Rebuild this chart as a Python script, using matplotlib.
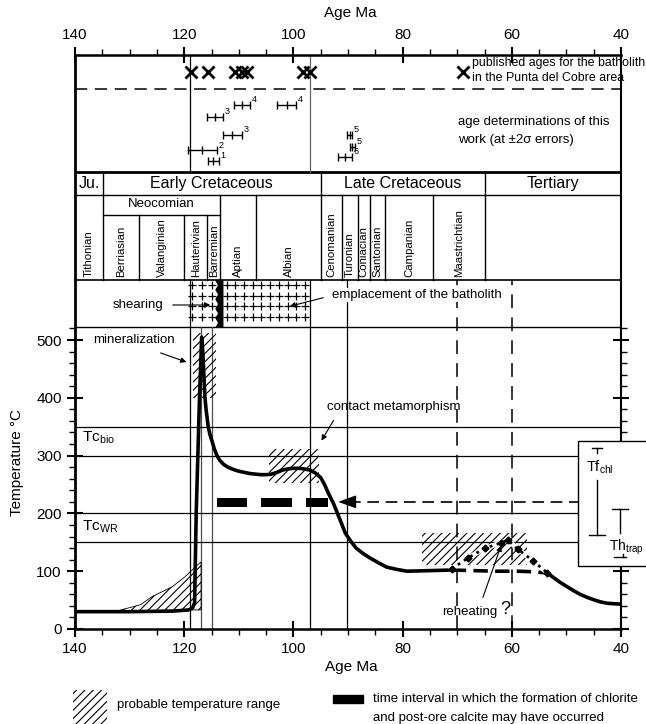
import numpy as np
import matplotlib
matplotlib.use('Agg')
import matplotlib.pyplot as plt
from matplotlib.patches import Rectangle
from matplotlib.ticker import MultipleLocator, FixedLocator

plt.rcParams['font.family'] = ['Liberation Sans', 'DejaVu Sans']
plt.rcParams['hatch.linewidth'] = 0.8
plt.rcParams['mathtext.default'] = 'regular'

# --- upper panel: ages ---
published_ages = [118.8, 115.6, 110.7, 109.5, 108.5, 98.3, 97.0]
det_ages = [109.4, 101.2, 114.4, 111.2, 89.7, 89.2, 116.7, 90.5, 114.7]
det_errs = [1.5, 1.75, 1.45, 1.75, 0.45, 0.45, 2.65, 1.25, 1.0]
det_labels = ['4', '4', '3', '3', '5', '5', '2', '6', '1']

# --- stratigraphy ---
periods = ['Ju.', 'Early Cretaceous', 'Late Cretaceous', 'Tertiary']
period_bounds = [140, 134.9, 95.0, 65.0, 40]
stages = ['Tithonian', 'Berriasian', 'Valanginian', 'Hauterivian', 'Barremian',
          'Aptian', 'Albian', 'Cenomanian', 'Turonian', 'Coniacian', 'Santonian',
          'Campanian', 'Maastrichtian']
stage_bounds = [140, 134.9, 128.3, 120.0, 115.8, 113.4, 106.8, 95.0,
                91.1, 88.2, 86.0, 83.2, 74.4, 65.0]
neocomian = (134.9, 113.4)

# --- temperature history ---
curve_age = [140, 130, 122, 119.2, 118.5, 118.1, 117.8, 117.2, 116.8, 116.6, 116.4,
             116.2, 116.0, 115.8, 115.6, 115.3, 114.9, 114.5, 114.0, 113.5, 112.8,
             112.0, 111.0, 110.0, 109.0, 108.0, 107.0, 106.0, 105.0, 104.0, 103.0,
             102.0, 101.0, 100.0, 99.0, 98.0, 97.0, 96.0, 95.0, 94.3, 93.6, 92.7,
             91.5, 90.5, 89.5, 88.5, 87.3, 86.0, 84.5, 82.9, 81.0, 79.2, 75.0, 71.0]
curve_temp = [30, 30, 31, 33, 36, 45, 200, 400, 505, 480, 440,
              401, 380, 365, 350, 337, 325, 312, 300, 292, 285,
              280, 276, 273, 271, 269, 268, 267, 267, 268, 271,
              275, 277, 278, 278, 277, 275, 270, 262, 250, 235, 218,
              190, 166, 152, 140, 131, 123, 115, 107, 103, 100, 101, 102]
gap_age = [71.0, 67.0, 63.0, 59.0, 56.0, 53.5]
gap_temp = [102, 101, 100, 100, 99, 97]
tail_age = [53.5, 52.5, 51.2, 50.0, 48.8, 47.5, 46.0, 44.8, 43.8, 42.5, 41.0, 40.0]
tail_temp = [97, 90, 81, 74, 67, 60, 54, 50, 47, 44.5, 43.5, 43]
reheat_age = [71.0, 68.0, 64.9, 62.0, 60.7, 58.9, 56.1, 53.5]
reheat_temp = [104, 123, 140, 149, 154, 138, 118, 97]
base_age = [132, 128, 125.9, 122.2, 119.9, 118.0, 116.9, 116.9, 119, 125, 132]
base_temp = [32, 42, 56, 73, 90, 107, 116, 33, 33, 32, 31]
mineral_box = (118.4, 114.2, 400, 512)
contact_box = (104.4, 95.3, 252, 311)
reheat_box = (76.4, 57.2, 110, 166)
closure_temps = [350, 300, 200, 150]
chlorite_from = [114.0, 105.9, 97.7]
chlorite_to = [108.5, 100.3, 93.7]
chlorite_temp = 219
tf_chl = (163, 313)
th_trap = (125, 208)


def yp(p):
    # pixel row of the reference -> axis units
    return (629 - p) / 0.578


def xp(p):
    return 140 - (p - 75) / 5.46


fig = plt.figure(figsize=(6.46, 7.24), dpi=100)
ax = fig.add_axes([75 / 646, 95 / 724, 546 / 646, 574 / 724])
ax.set_xlim(140, 40)
ax.set_ylim(0, yp(55))

for side, lw in [('left', 2.0), ('bottom', 1.8), ('top', 1.8), ('right', 1.5)]:
    ax.spines[side].set_linewidth(lw)

ax.set_xticks(np.arange(140, 39, -20))
ax.xaxis.set_minor_locator(MultipleLocator(5))
ax.set_yticks(np.arange(0, 501, 100))
ax.yaxis.set_minor_locator(FixedLocator([t for t in range(0, 521, 20) if t % 100]))
ax.tick_params(which='major', direction='inout', length=12, width=1.5, labelsize=11,
               top=True, right=True, labeltop=True)
ax.tick_params(which='minor', direction='out', length=4, width=1, top=True, right=True)

fig.text(350 / 646, 1 - 13 / 724, 'Age Ma', ha='center', va='center', fontsize=11)
fig.text(351 / 646, 1 - 667 / 724, 'Age Ma', ha='center', va='center', fontsize=11)
fig.text(17 / 646, 1 - 462 / 724, 'Temperature °C', ha='center', va='center',
         rotation=90, fontsize=11)

# frame lines of the upper panels
ax.axhline(yp(89), color='k', lw=1.1, dashes=(8, 5))
ax.axhline(yp(172), color='k', lw=2)
ax.axhline(yp(195), color='k', lw=1)
ax.axhline(yp(280), color='k', lw=1.2)
ax.axhline(yp(327), color='k', lw=1)
ax.plot(neocomian, [yp(215)] * 2, color='k', lw=1)
for b in period_bounds[1:-1]:
    ax.plot([b, b], [yp(172), yp(195)], color='k', lw=1)
for b in stage_bounds[1:]:
    top = yp(215) if neocomian[1] < b < neocomian[0] else yp(195)
    ax.plot([b, b], [top, yp(280)], color='k', lw=1)

for name, a, b in zip(periods, period_bounds[:-1], period_bounds[1:]):
    ax.text((a + b) / 2, yp(183.5), name, ha='center', va='center', fontsize=11.5)
ax.text(sum(neocomian) / 2, yp(204), 'Neocomian', ha='center', va='center', fontsize=9.5)
for name, a, b in zip(stages, stage_bounds[:-1], stage_bounds[1:]):
    ax.text((a + b) / 2, yp(277), name, ha='center', va='bottom', rotation=90, fontsize=8.2)

# published ages and age determinations
ax.plot([118.9, 118.9], [yp(55), yp(172)], color='k', lw=0.9)
ax.plot([97.0, 97.0], [yp(55), yp(172)], color='0.4', lw=0.9)
ax.plot(published_ages, [yp(72)] * len(published_ages), 'x', color='k', ms=8, mew=2)
ax.plot([69.0], [yp(72)], 'x', color='k', ms=8, mew=2)
ax.text(xp(472), yp(63), 'published ages for the batholith', fontsize=8.9, va='center')
ax.text(xp(472), yp(78), 'in the Punta del Cobre area', fontsize=8.9, va='center')
ax.text(xp(458), yp(122), 'age determinations of this', fontsize=9.5, va='center')
ax.text(xp(458), yp(140), 'work (at ±2σ errors)', fontsize=9.5, va='center')

det_rows = [105, 105, 117, 135, 135, 147, 150, 157, 161]
for a, e, lab, r in zip(det_ages, det_errs, det_labels, det_rows):
    ax.errorbar([a], [yp(r)], xerr=[e], fmt='|', color='k', ms=6, mew=1, lw=1, capsize=3)
    ax.text(a - e - 0.3, yp(r - 5), lab, fontsize=6.5, ha='left', va='center')

# shearing / emplacement row
cx = np.concatenate([np.linspace(118.6, 114.9, 3), np.linspace(112.2, 97.9, 10)])
cy = [yp(p) for p in (285, 296, 306, 317)]
X, Y = np.meshgrid(cx, cy)
ax.plot(X.ravel(), Y.ravel(), '+', color='k', ms=5.5, mew=0.9)
zy = np.linspace(yp(280), yp(327), 11)
zx = np.where(np.arange(11) % 2 == 0, 114.4, 113.9)
ax.fill_betweenx(zy, zx, 112.9, color='k', lw=0)
ax.text(xp(138), yp(305), 'shearing', ha='center', va='center', fontsize=9.5)
ax.annotate('', xy=(xp(213), yp(305)), xytext=(xp(170), yp(305)),
            arrowprops=dict(arrowstyle='-|>', color='k', lw=0.8, mutation_scale=8))
ax.text(xp(332), yp(295), 'emplacement of the batholith', ha='left', va='center',
        fontsize=9.5, zorder=4, bbox=dict(facecolor='white', edgecolor='none', pad=0.5))
ax.annotate('', xy=(xp(287), yp(307)), xytext=(xp(326), yp(297)),
            arrowprops=dict(arrowstyle='-|>', color='k', lw=0.8, mutation_scale=8))

# vertical reference lines
for a in (118.9, 97.0, 90.2):
    ax.plot([a, a], [0, yp(280)], color='k', lw=0.9)
for a in (116.9, 114.9):
    ax.plot([a, a], [0, yp(327)], color='0.3', lw=0.9)
for a in (70.0, 60.0):
    ax.plot([a, a], [0, yp(280)], color='k', lw=1.1, dashes=(9, 6))

# closure temperature lines
ax.axhline(closure_temps[0], color='k', lw=0.9)
for t in closure_temps[1:]:
    ax.plot([140, 47.9], [t, t], color='k', lw=0.9)
ax.text(138.7, 330, r'Tc$_{bio}$', fontsize=11, va='center')
ax.text(138.7, 176, r'Tc$_{WR}$', fontsize=11, va='center')

# probable temperature ranges
for a0, a1, t0, t1 in (mineral_box, contact_box, reheat_box):
    ax.add_patch(Rectangle((a1, t0), a0 - a1, t1 - t0, facecolor='none',
                           edgecolor='k', lw=0, hatch='////', zorder=2))
ax.fill(base_age, base_temp, facecolor='none', edgecolor='k', lw=0.6, hatch='////', zorder=2)

# chlorite interval and arrow
for a0, a1 in zip(chlorite_from, chlorite_to):
    ax.barh(chlorite_temp, a0 - a1, left=a1, height=15, color='k', zorder=3)
ax.plot([89.9, 47.9], [220, 220], color='k', lw=1.2, dashes=(7, 4))
ax.annotate('', xy=(91.8, 220), xytext=(89.6, 220),
            arrowprops=dict(arrowstyle='-|>,head_length=1.1,head_width=0.4', color='k',
                            lw=1, mutation_scale=10, shrinkA=0, shrinkB=0))

# temperature curve
ax.plot(curve_age, curve_temp, color='k', lw=2.6, solid_joinstyle='round', zorder=5)
ax.plot(gap_age, gap_temp, color='k', lw=2.6, dashes=(4, 2), zorder=5)
ax.plot(tail_age, tail_temp, color='k', lw=2.6, solid_capstyle='round',
        solid_joinstyle='round', zorder=5)
ax.plot(reheat_age, reheat_temp, color='white', lw=3.5, zorder=5)
ax.plot(reheat_age, reheat_temp, color='k', lw=2, ls=':', zorder=6)
ax.plot(reheat_age, reheat_temp, 'D', color='k', ms=3.5, zorder=6)

# annotations
ax.text(xp(93), yp(340), 'mineralization', ha='left', va='center', fontsize=9.5)
ax.annotate('', xy=(xp(189), yp(363)), xytext=(xp(158), yp(352)),
            arrowprops=dict(arrowstyle='-|>', color='k', lw=0.8, mutation_scale=8))
ax.text(xp(327), yp(407), 'contact metamorphism', ha='left', va='center', fontsize=9.5)
ax.annotate('', xy=(xp(320), yp(443)), xytext=(xp(335), yp(418)),
            arrowprops=dict(arrowstyle='-|>', color='k', lw=0.8, mutation_scale=8))
ax.text(xp(442), yp(612), 'reheating', ha='left', va='center', fontsize=9.5)
ax.text(xp(500), yp(609), '?', ha='left', va='center', fontsize=13)
ax.annotate('', xy=(xp(502), yp(543)), xytext=(xp(482), yp(600)),
            arrowprops=dict(arrowstyle='-|>', color='k', lw=0.8, mutation_scale=8))

# fluid-inclusion box on the right
ax.add_patch(Rectangle((30, 109), 47.9 - 30, 325 - 109, facecolor='white', edgecolor='k',
                       lw=1, zorder=3, clip_on=False))
xc = 44.4
ax.plot([xc, xc], [tf_chl[1], tf_chl[1] - 9], color='k', lw=1, zorder=4, clip_on=False)
ax.plot([xc, xc], [258, tf_chl[0]], color='k', lw=1, zorder=4, clip_on=False)
ax.plot([xc - 0.9, xc + 0.9], [tf_chl[1]] * 2, color='k', lw=1, zorder=4, clip_on=False)
ax.plot([xc - 1.4, xc + 1.4], [tf_chl[0]] * 2, color='k', lw=1, zorder=4, clip_on=False)
ax.text(xp(586), yp(467), r'Tf$_{chl}$', fontsize=10.5, va='center', ha='left', zorder=4)
xt = 40.2
ax.plot([xt, xt], [th_trap[1], 166], color='k', lw=1, zorder=4, clip_on=False)
ax.plot([xt - 1.5, xt + 1.5], [th_trap[1]] * 2, color='k', lw=1, zorder=4, clip_on=False)
ax.plot([xt - 1.1, xt + 1.1], [th_trap[0]] * 2, color='k', lw=1, zorder=4, clip_on=False)
ax.plot([xt - 0.5, xt - 0.5], [th_trap[0], th_trap[0] + 4], color='k', lw=1, zorder=4, clip_on=False)
ax.text(xp(609), yp(547), r'Th$_{trap}$', fontsize=10, va='center', ha='left', zorder=4)

# legend
fig.add_artist(Rectangle((73 / 646, 0), 34 / 646, 34 / 724, transform=fig.transFigure,
                         facecolor='none', edgecolor='k', lw=0, hatch='////'))
fig.text(117 / 646, 1 - 705 / 724, 'probable temperature range', fontsize=9.5, va='center')
fig.add_artist(Rectangle((333 / 646, 1 - 703 / 724), 30 / 646, 8 / 724,
                         transform=fig.transFigure, color='k'))
fig.text(373 / 646, 1 - 699 / 724, 'time interval in which the formation of chlorite',
         fontsize=9.5, va='center')
fig.text(373 / 646, 1 - 718 / 724, 'and post-ore calcite may have occurred',
         fontsize=9.5, va='center')

fig.savefig('out.png', dpi=100)
